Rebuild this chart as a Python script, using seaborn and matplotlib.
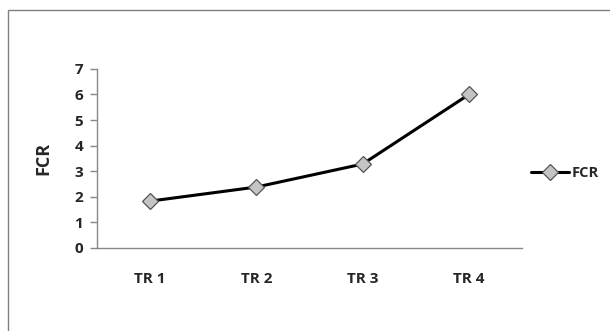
import matplotlib
matplotlib.use("Agg")
import matplotlib.pyplot as plt
from matplotlib.patches import Rectangle
from matplotlib.ticker import FixedLocator, NullFormatter
import seaborn as sns
import pandas as pd

treatments = ["TR 1", "TR 2", "TR 3", "TR 4"]
fcr = [1.83, 2.38, 3.28, 6.0]
y_ticks = [0, 1, 2, 3, 4, 5, 6, 7]

sns.set_style("white")
plt.rcParams["font.family"] = ["Open Sans", "DejaVu Sans"]

df = pd.DataFrame({"pos": range(len(treatments)), "FCR": fcr})

fig = plt.figure(figsize=(6.10, 3.31), dpi=100)
ax = fig.add_axes([0.159, 0.251, 0.697, 0.541])

sns.lineplot(data=df, x="pos", y="FCR", ax=ax, color="black", linewidth=2.2,
             marker="D", markersize=8, markerfacecolor="#c4c4c4",
             markeredgecolor="#555555", markeredgewidth=0.9, label="FCR")

ax.set_xlim(-0.5, len(treatments) - 0.5)
ax.set_ylim(0, 7)
ax.set_yticks(y_ticks)
ax.set_xticks(range(len(treatments)))
ax.set_xticklabels(treatments, fontsize=11, fontweight="bold")
ax.set_yticklabels([str(t) for t in y_ticks], fontsize=11, fontweight="bold")
ax.xaxis.set_minor_locator(FixedLocator([i - 0.5 for i in range(len(treatments) + 1)]))
ax.xaxis.set_minor_formatter(NullFormatter())
ax.tick_params(axis="x", which="major", length=0, pad=17)
ax.tick_params(axis="x", which="minor", length=5, color="#888888", width=1, direction="out")
ax.tick_params(axis="y", length=5, color="#888888", width=1, direction="out", pad=5, left=True)

for side in ["top", "right"]:
    ax.spines[side].set_visible(False)
for side in ["left", "bottom"]:
    ax.spines[side].set_color("#888888")
    ax.spines[side].set_linewidth(1.0)

ax.set_xlabel("")
ax.set_ylabel("FCR", fontsize=13, fontweight="bold", labelpad=16)

leg = ax.legend(loc="center left", bbox_to_anchor=(0.99, 0.42), frameon=False,
                handlelength=2.6, handletextpad=0.15,
                prop={"family": ["Open Sans", "DejaVu Sans"], "weight": "bold", "size": 10.5})

fig.patches.append(Rectangle((8 / 610, -0.1), 1.2, 1 - 10 / 331 + 0.1,
                             transform=fig.transFigure, fill=False,
                             edgecolor="#808080", linewidth=1.0))

fig.savefig("out.png", dpi=100)
